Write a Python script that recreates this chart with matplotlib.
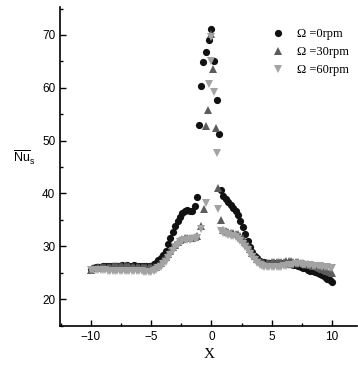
import numpy as np
import matplotlib
matplotlib.use("Agg")
import matplotlib.pyplot as plt
from matplotlib.ticker import MultipleLocator

# x positions of the measured points (left tail, right tail)
x_left = np.round(np.arange(-10.0, -1.1, 0.2), 1)
x_right_0 = np.round(np.arange(0.8, 10.01, 0.2), 1)
x_right_30 = np.round(np.arange(1.0, 10.01, 0.2), 1)
x_right_60 = np.round(np.arange(0.8, 10.01, 0.2), 1)

# Omega = 0 rpm
nu0_left = [25.7, 25.9, 26.0, 26.1, 26.1, 26.2, 26.2, 26.2, 26.3, 26.3,
            26.3, 26.3, 26.3, 26.4, 26.3, 26.4, 26.3, 26.3, 26.4, 26.3,
            26.3, 26.2, 26.2, 26.2, 26.2, 26.3, 26.6, 26.9, 27.4, 27.8,
            28.3, 29.2, 30.4, 31.6, 32.7, 33.8, 34.8, 35.6, 36.3, 36.7,
            36.8, 36.7, 36.6, 37.6, 39.3]
x0_mid = [-1.05, -0.9, -0.68, -0.46, -0.23, -0.05, 0.2, 0.43, 0.65]
nu0_mid = [52.9, 60.4, 64.8, 66.8, 69.1, 71.1, 65.0, 57.7, 51.3]
nu0_right = [40.6, 39.6, 38.9, 38.3, 37.8, 37.3, 36.7, 35.9, 34.8, 33.6,
             32.4, 31.0, 29.9, 28.9, 28.2, 27.7, 27.3, 27.1, 27.0, 26.9,
             26.9, 26.8, 26.8, 26.8, 26.8, 26.8, 26.8, 26.8, 26.7, 26.6,
             26.5, 26.4, 26.2, 26.1, 25.9, 25.8, 25.6, 25.4, 25.3, 25.1,
             24.9, 24.7, 24.5, 24.2, 23.9, 23.6, 23.2]

# Omega = 30 rpm
nu30_left = [25.6, 25.8, 25.9, 26.0, 26.0, 26.1, 26.1, 26.1, 26.1, 26.2,
             26.2, 26.2, 26.2, 26.2, 26.2, 26.2, 26.2, 26.1, 26.1, 26.1,
             26.1, 26.0, 26.0, 26.0, 26.0, 26.0, 26.0, 26.1, 26.4, 26.8,
             27.4, 28.0, 28.6, 29.2, 29.8, 30.3, 30.8, 31.2, 31.4, 31.5,
             31.6, 31.6, 31.6, 31.7, 32.0]
x30_mid = [-0.9, -0.65, -0.46, -0.27, 0.0, 0.15, 0.37, 0.57, 0.76]
nu30_mid = [33.8, 37.1, 52.7, 55.8, 70.2, 63.5, 52.3, 41.1, 35.0]
nu30_right = [33.0, 32.8, 32.7, 32.6, 32.5, 32.4, 32.3, 32.0, 31.5, 30.9,
              30.2, 29.5, 28.8, 28.1, 27.6, 27.2, 27.0, 26.9, 26.9, 26.9,
              27.0, 27.0, 27.0, 27.0, 27.1, 27.1, 27.2, 27.2, 27.2, 27.1,
              27.1, 27.0, 26.9, 26.8, 26.7, 26.6, 26.5, 26.3, 26.2, 26.0,
              25.9, 25.7, 25.5, 25.3, 25.1, 24.9]

# Omega = 60 rpm
nu60_left = [25.5, 25.5, 25.5, 25.5, 25.5, 25.5, 25.5, 25.4, 25.4, 25.4,
             25.4, 25.4, 25.4, 25.4, 25.4, 25.4, 25.3, 25.3, 25.3, 25.3,
             25.3, 25.3, 25.2, 25.2, 25.2, 25.2, 25.3, 25.5, 25.8, 26.1,
             26.6, 27.1, 27.7, 28.4, 29.1, 29.8, 30.3, 30.8, 31.0, 31.2,
             31.2, 31.2, 31.3, 31.3, 31.5]
x60_mid = [-0.85, -0.46, -0.23, -0.05, 0.0, 0.2, 0.43, 0.57]
nu60_mid = [33.2, 38.2, 60.7, 69.6, 65.1, 59.2, 47.7, 37.0]
nu60_right = [32.9, 32.6, 32.4, 32.2, 32.0, 31.9, 31.7, 31.4, 31.0, 30.5,
              29.9, 29.3, 28.6, 28.0, 27.4, 26.9, 26.5, 26.2, 26.1, 26.0,
              26.0, 26.0, 26.0, 26.0, 26.1, 26.1, 26.2, 26.3, 26.4, 26.5,
              26.5, 26.6, 26.6, 26.6, 26.5, 26.5, 26.4, 26.4, 26.3, 26.3,
              26.2, 26.2, 26.1, 26.0, 26.0, 25.9, 25.8]

labels = ["\u03a9 =0rpm", "\u03a9 =30rpm", "\u03a9 =60rpm"]

plt.rcParams["font.family"] = "Liberation Sans"
plt.rcParams["mathtext.default"] = "regular"

fig = plt.figure(figsize=(3.58, 3.68), dpi=100)
ax = fig.add_axes([0.168, 0.114, 0.83, 0.867])

series = [
    (x_left, nu0_left, x0_mid, nu0_mid, x_right_0, nu0_right, "o", "#111111", 5.2),
    (x_left, nu30_left, x30_mid, nu30_mid, x_right_30, nu30_right, "^", "#5c5c5c", 5.6),
    (x_left, nu60_left, x60_mid, nu60_mid, x_right_60, nu60_right, "v", "#a3a3a3", 5.6),
]
for (xl, yl, xm, ym, xr, yr, mk, col, ms), lab in zip(series, labels):
    xs = np.concatenate([xl, xm, xr])
    ys = np.concatenate([yl, ym, yr])
    ax.plot(xs, ys, linestyle="none", marker=mk, color=col, markersize=ms,
            markeredgewidth=0, label=lab)

ax.set_xlim(-12.55, 12.1)
ax.set_ylim(14.9, 75.3)
ax.xaxis.set_major_locator(MultipleLocator(5))
ax.xaxis.set_minor_locator(MultipleLocator(2.5))
ax.yaxis.set_major_locator(MultipleLocator(10))
ax.yaxis.set_minor_locator(MultipleLocator(5))
ax.tick_params(which="major", direction="in", length=4, width=1, labelsize=8.5)
ax.tick_params(which="minor", direction="in", length=2.5, width=1)
ax.spines["top"].set_visible(False)
ax.spines["right"].set_visible(False)
for s in ("left", "bottom"):
    ax.spines[s].set_linewidth(1.2)

ax.set_xlabel("X", family="Liberation Serif", fontsize=11, labelpad=4)
ax.set_ylabel(r"$\overline{Nu}_s$", rotation=0, fontsize=9)
ax.yaxis.set_label_coords(-0.12, 0.5)

ax.legend(loc="upper left", bbox_to_anchor=(0.694, 0.95), frameon=False,
          prop={"family": "Liberation Serif", "size": 9},
          handletextpad=1.05, labelspacing=0.5, handlelength=1.0,
          borderaxespad=0.0)

fig.savefig("out.png", dpi=100)
